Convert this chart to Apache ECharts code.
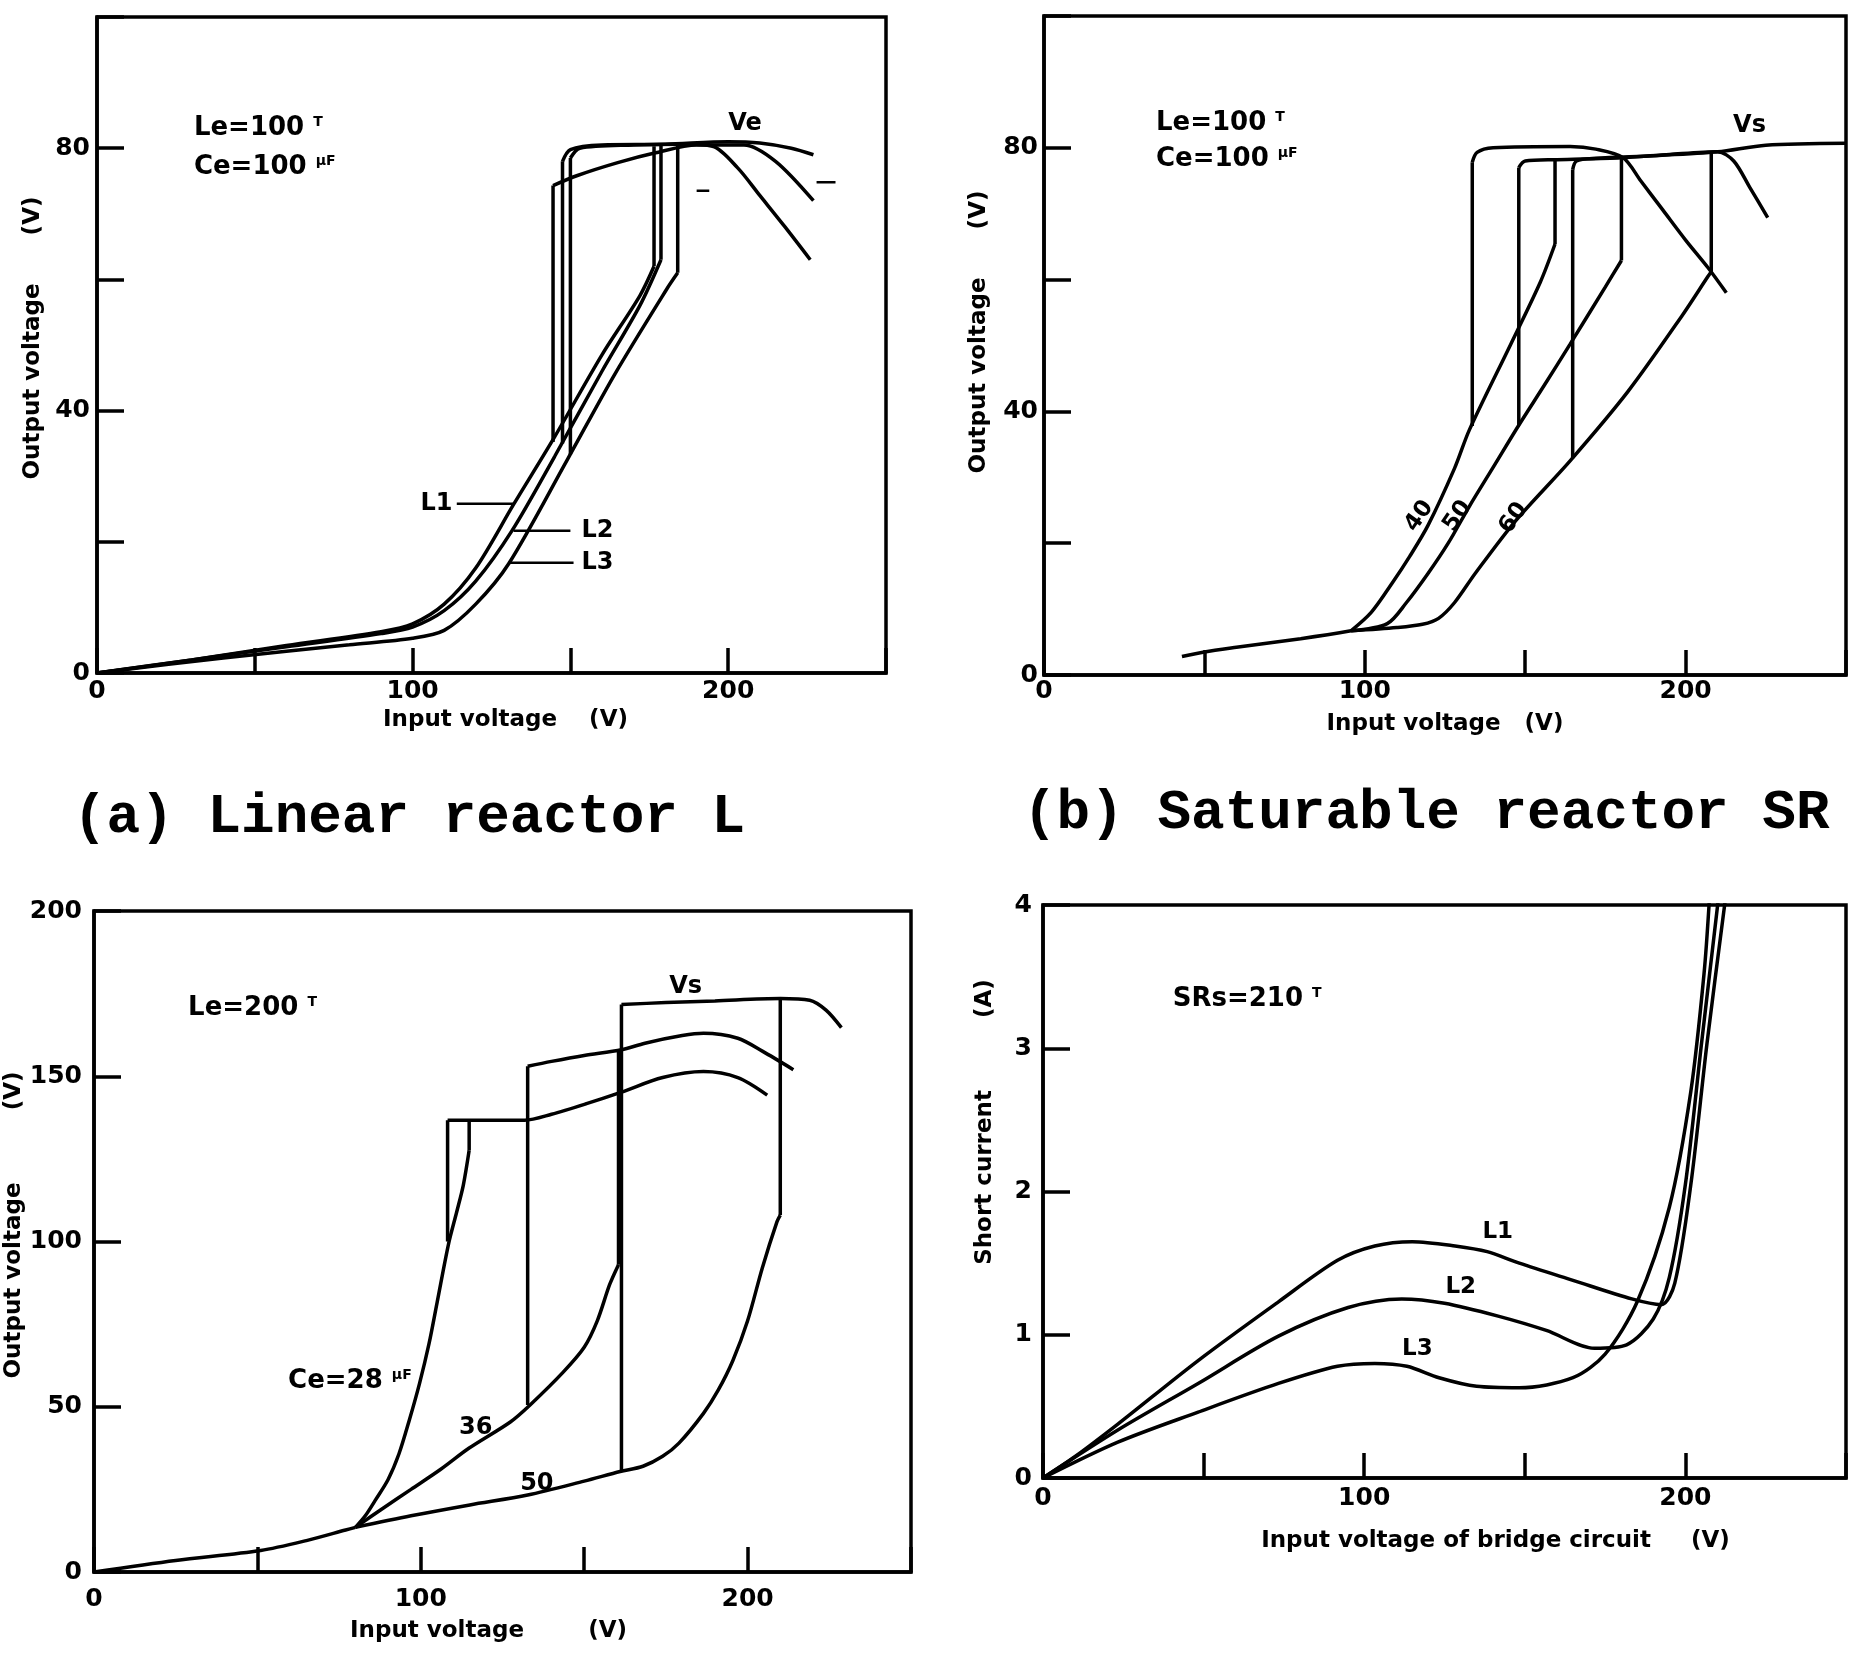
<!DOCTYPE html>
<html>
<head>
<meta charset="utf-8">
<title>Reactor characteristics</title>
<script src="https://cdn.jsdelivr.net/npm/echarts@6/dist/echarts.min.js"></script>
<style>
  html, body { margin: 0; padding: 0; background: #fff; }
  #chart { width: 1849px; height: 1655px; }
</style>
</head>
<body>
<div id="chart"></div>
<script>
// ---- panel (a): linear reactor, curves L1..L3 ----
const aL1Low = [[0,0],[30,2],[60,4.2],[90,6.3],[100,7.5],[110,10.5],[120,16],[132,25.7],[145,36],[160,48.5],[172,57.5],[176.5,62]];
const aL1Up = [[176.5,62],[176.5,80.3]];
const aL1Top = [[144.5,74.3],[152,75.8],[165,77.8],[177,79.3],[190,80.5],[205,80.5],[215,78],[227,72]];
const aL1Down = [[144.5,74.3],[144.5,35.2]];

const aL2Low = [[0,0],[30,2],[60,4],[90,6],[100,7],[110,9.5],[120,14],[131.5,21.7],[145,33],[160,46],[172,56],[178.7,63]];
const aL2Up = [[178.7,63],[178.7,80.5]];
const aL2Top = [[147.5,78],[150,79.8],[160,80.5],[180,80.6],[200,81],[210,80.8],[220,80],[227,79]];
const aL2Down = [[147.5,78],[147.5,35]];

const aL3Low = [[0,0],[40,2.3],[80,4.3],[100,5.3],[110,6.5],[120,10.5],[130.5,16.7],[149,32.5],[164,45.5],[180.5,58.5],[184,61]];
const aL3Up = [[184,61],[184,80.5]];
const aL3Top = [[150,78.5],[153,80],[170,80.5],[185,80.6],[195,80.3],[203,77],[210,72.8],[218,68],[226,63]];
const aL3Down = [[150,78.5],[150,33.3]];

const aLead1 = [[114,25.8],[132.4,25.8]];
const aLead2 = [[132,21.7],[150,21.7]];
const aLead3 = [[130.5,16.8],[151,16.8]];
const aDash1 = [[190,73.5],[194,73.5]];
const aDash2 = [[228,74.8],[234,74.8]];

// ---- panel (b): saturable reactor ----
const bBase = [[43,2.8],[50,3.5],[60,4.2],[80,5.5],[95.7,6.7]];
const bC1Low = [[95.7,6.7],[102,9.5],[108.6,14],[114,18],[119.7,22.7],[128,31.4],[132.6,37.2],[145.5,50.2],[154.7,59.6],[159.3,65.4]];
const bC1Up = [[159.3,65.4],[159.3,78]];
const bC1Top = [[133.5,77.8],[135,79.3],[140,80],[164,80.2],[172,79.8],[180.5,78.5],[186,75],[193,70.5],[200,66],[207,61.8],[212.7,58]];
const bC1Down = [[133.5,77.8],[133.5,37.8]];

const bC2Low = [[95.7,6.7],[107,7.8],[113,11],[119.7,15.4],[126,20],[132.6,25.6],[140,31.5],[148,37.9],[156,44],[164,50.2],[175,58.9],[180,62.9]];
const bC2Up = [[180,62.9],[180,78.4]];
const bC2Top = [[148,77],[150,78],[160,78.2],[180,78.5],[195,79],[210,79.4],[215,78],[220,74],[225.6,69.4]];
const bC2Down = [[148,77],[148,37.9]];

const bC3Low = [[95.7,6.7],[110,7.2],[118,7.7],[123,8.6],[128,11],[134.4,15.4],[147,23.4],[164,32.5],[182,43],[199,54.6],[207,60.5],[208,61.2]];
const bC3Up = [[208,61.2],[208,79.3]];
const bC3Top = [[164.8,76.7],[166,78],[172,78.4],[190,78.8],[210,79.4],[225,80.4],[250,80.7]];
const bC3Down = [[164.8,76.7],[164.8,32.9]];

// ---- panel (c): Le = 200, Ce = 28 / 36 / 50 ----
const cBase = [[0,0],[25,3.5],[51,6.5],[65,9.5],[77,12.7],[80,13.5]];
const c28Low = [[80,13.5],[83,17],[86,21.6],[90,28],[93.3,35.7],[96.5,46],[99.6,57],[102.5,69],[105,81.6],[108.5,99.3],[111,109],[113,117],[114.8,127.6]];
const c28Up = [[114.8,127.6],[114.8,136.7]];
const c28Top = [[108.2,136.7],[120,136.7],[131.8,136.7],[140,138.5],[150.7,141.7],[161.4,145.2],[174,149.6],[186.5,151.4],[197,149.6],[206,144.3]];
const c28Down = [[108.2,136.7],[108.2,100]];

const c36Low = [[80,13.5],[88,19],[97,25],[106,31],[114.8,37.5],[127.4,45.4],[133.6,50.7],[143.5,60.4],[150,68],[154,76],[157.8,87],[160.5,93]];
const c36Up = [[160.5,93],[160.5,158]];
const c36Top = [[132.7,153],[140,154.5],[150,156.3],[161.4,158],[168.6,160],[180,162.3],[186.5,163],[197,161.5],[204.5,157.6],[214,152]];
const c36Down = [[132.7,153],[132.7,50.5]];

const c50Low = [[80,13.5],[97,17],[115,20.3],[132.7,23.3],[150,27.5],[161,30.4],[168,32],[174,35],[179,39],[186.5,48],[191,55],[195.5,64],[200,76],[204.5,92],[209,106],[210,108]];
const c50Up = [[210,108],[210,173.5]];
const c50Top = [[161.4,171.7],[175,172.3],[190,172.8],[210,173.5],[219,173],[224,170],[228.7,164.7]];
const c50Down = [[161.4,171.7],[161.4,30.4]];

// ---- panel (d): short current ----
const dL1 = [[0,0],[10,0.15],[23.3,0.376],[48.3,0.82],[73.3,1.23],[91.7,1.52],[103.3,1.62],[115,1.65],[128.3,1.62],[138.3,1.58],[148.3,1.5],[165,1.38],[183.3,1.25],[192.5,1.21],[196.7,1.36],[201.7,2.05],[206.7,3.03],[212.5,4.05]];
const dL2 = [[0,0],[23.3,0.335],[48.3,0.66],[73.3,0.99],[95,1.19],[111.7,1.25],[125,1.22],[141.7,1.13],[156.7,1.03],[171.7,0.906],[181.7,0.93],[190,1.11],[195,1.4],[200,2.05],[205,3.03],[210.3,4.05]];
const dL3 = [[0,0],[23.3,0.25],[48.3,0.46],[73.3,0.66],[91.7,0.78],[103.3,0.8],[113.3,0.78],[123.3,0.7],[135,0.64],[148.3,0.63],[165,0.7],[175,0.865],[185,1.23],[195,1.89],[201.7,2.7],[205.8,3.52],[207.5,4.05]];

// annotations [x, y, text]
const aParams = [[30.7,83,'Le=100 {s|T}'],[30.7,77.1,'Ce=100 {s|μF}']];
const aNotes = [[200,83.7,'Ve'],[102.5,25.8,'L1'],[153.5,21.7,'L2'],[153.5,16.8,'L3']];
const bParams = [[34.9,83.7,'Le=100 {s|T}'],[34.9,78.3,'Ce=100 {s|μF}']];
const bNotes = [[214.8,83.4,'Vs']];
const bRotNotes = [[117,24.1,'40'],[128.9,24.1,'50'],[146.4,23.8,'60']];
const cParams = [[28.8,170.6,'Le=200 {s|T}'],[59.4,57.8,'Ce=28 {s|μF}']];
const cNotes = [[176,177,'Vs'],[111.7,43.6,'36'],[130.4,26.6,'50']];
const dParams = [[40.4,3.34,'SRs=210 {s|T}']];
const dNotes = [[136.8,1.72,'L1'],[125.3,1.33,'L2'],[111.8,0.9,'L3']];

const chart = echarts.init(document.getElementById('chart'));
const FONT = 'DejaVu Sans';

function line(i, data, smooth, width) {
  return {
    type: 'line', xAxisIndex: i, yAxisIndex: i, data: data,
    smooth: smooth ? 0.3 : false, symbol: 'none', silent: true,
    lineStyle: { color: '#000', width: width || 3.5 }
  };
}

function notes(i, rows, size, rotate) {
  return {
    type: 'scatter', xAxisIndex: i, yAxisIndex: i, symbolSize: 0, silent: true,
    itemStyle: { opacity: 1 },
    data: rows.map(r => ({ value: [r[0], r[1]], name: r[2] })),
    label: {
      show: true,
      position: rotate ? 'inside' : 'right',
      distance: 0,
      rotate: rotate || 0,
      opacity: 1,
      formatter: p => p.name,
      color: '#000', fontFamily: FONT, fontWeight: 'bold', fontSize: size,
      rich: { s: { fontFamily: FONT, fontWeight: 'bold', fontSize: Math.round(size * 0.55), verticalAlign: 'top', color: '#000' } }
    }
  };
}

function xAx(i, gap, margin, name, pad) {
  return {
    type: 'value', gridIndex: i, min: 0, max: 250, interval: 50,
    axisLine: { show: true, lineStyle: { color: '#000', width: 3.5 } },
    axisTick: { show: true, inside: true, length: 25, lineStyle: { color: '#000', width: 3.5 } },
    splitLine: { show: false },
    axisLabel: {
      margin: margin, color: '#000', fontFamily: FONT, fontWeight: 'bold', fontSize: 25,
      formatter: v => (v % 100 === 0 ? String(v) : '')
    },
    name: name, nameLocation: 'middle', nameGap: gap,
    nameTextStyle: { color: '#000', fontFamily: FONT, fontWeight: 'bold', fontSize: 23, padding: pad }
  };
}

function yAx(i, max, step, every, gap, margin, name, pad) {
  return {
    type: 'value', gridIndex: i, min: 0, max: max, interval: step,
    axisLine: { show: true, lineStyle: { color: '#000', width: 3.5 } },
    axisTick: { show: true, inside: true, length: 27, lineStyle: { color: '#000', width: 3.5 } },
    splitLine: { show: false },
    axisLabel: {
      margin: margin, color: '#000', fontFamily: FONT, fontWeight: 'bold', fontSize: 25,
      formatter: v => (Math.abs(v / every - Math.round(v / every)) < 1e-9 ? String(v) : '')
    },
    name: name, nameLocation: 'middle', nameGap: gap,
    nameTextStyle: { color: '#000', fontFamily: FONT, fontWeight: 'bold', fontSize: 23, padding: pad }
  };
}

const gridStyle = { show: true, borderColor: '#000', borderWidth: 3.5, backgroundColor: 'transparent' };
const titleStyle = { fontFamily: 'Liberation Mono', fontWeight: 'bold', fontSize: 56, color: '#000' };

const option = {
  backgroundColor: '#fff',
  animation: false,
  title: [
    { text: '(a) Linear reactor L', left: 73, top: 790, padding: 0, textStyle: titleStyle },
    { text: '(b) Saturable reactor SR', left: 1023, top: 786, padding: 0, textStyle: titleStyle }
  ],
  grid: [
    Object.assign({ left: 97, top: 17, width: 789, height: 656 }, gridStyle),
    Object.assign({ left: 1044, top: 16, width: 810, height: 659 }, gridStyle),
    Object.assign({ left: 94, top: 911, width: 817, height: 661 }, gridStyle),
    Object.assign({ left: 1043, top: 905, width: 890, height: 573 }, gridStyle)
  ],
  xAxis: [
    xAx(0, 36, 6, 'Input voltage    (V)', [0, 0, 0, 28]),
    xAx(1, 38, 4, 'Input voltage   (V)', [0, 0, 0, 0]),
    xAx(2, 48, 15, 'Input voltage        (V)', [0, 28, 0, 0]),
    xAx(3, 52, 8, 'Input voltage of bridge circuit     (V)', [0, 0, 0, 102])
  ],
  yAxis: [
    yAx(0, 100, 20, 40, 52, 7, 'Output voltage      (V)', [0, 0, 0, 14]),
    yAx(1, 100, 20, 40, 53, 6, 'Output voltage      (V)', [0, 0, 0, 27]),
    yAx(2, 200, 50, 50, 65, 12, 'Output voltage         (V)', [0, 0, 0, 33]),
    yAx(3, 4, 1, 1, 46, 11, 'Short current         (A)', [0, 0, 0, 139])
  ],
  series: [
    line(0, aL1Low, true), line(0, aL1Up), line(0, aL1Top, true), line(0, aL1Down),
    line(0, aL2Low, true), line(0, aL2Up), line(0, aL2Top, true), line(0, aL2Down),
    line(0, aL3Low, true), line(0, aL3Up), line(0, aL3Top, true), line(0, aL3Down),
    line(0, aLead1, false, 2.5), line(0, aLead2, false, 2.5), line(0, aLead3, false, 2.5),
    line(0, aDash1, false, 2.5), line(0, aDash2, false, 2.5),
    notes(0, aParams, 26), notes(0, aNotes, 24),

    line(1, bBase, true),
    line(1, bC1Low, true), line(1, bC1Up), line(1, bC1Top, true), line(1, bC1Down),
    line(1, bC2Low, true), line(1, bC2Up), line(1, bC2Top, true), line(1, bC2Down),
    line(1, bC3Low, true), line(1, bC3Up), line(1, bC3Top, true), line(1, bC3Down),
    notes(1, bParams, 26), notes(1, bNotes, 24), notes(1, bRotNotes, 23, 55),

    line(2, cBase, true),
    line(2, c28Low, true), line(2, c28Up), line(2, c28Top, true), line(2, c28Down),
    line(2, c36Low, true), line(2, c36Up), line(2, c36Top, true), line(2, c36Down),
    line(2, c50Low, true), line(2, c50Up), line(2, c50Top, true), line(2, c50Down),
    notes(2, cParams, 26), notes(2, cNotes, 24),

    line(3, dL1, true), line(3, dL2, true), line(3, dL3, true),
    notes(3, dParams, 26), notes(3, dNotes, 23)
  ]
};

chart.setOption(option);
</script>
</body>
</html>
